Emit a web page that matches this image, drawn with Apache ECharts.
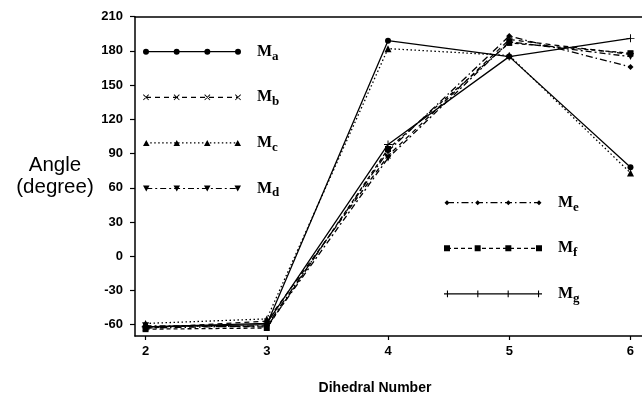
<!DOCTYPE html>
<html><head><meta charset="utf-8">
<script src="https://cdn.jsdelivr.net/npm/echarts@6/dist/echarts.min.js"></script>
<style>html,body{margin:0;padding:0;background:#fff}#c{width:642px;height:396px}</style>
</head><body><div id="c"></div>
<script>
// ---- data ----
const dihedral = [2, 3, 4, 5, 6];
const yTicks = [-60, -30, 0, 30, 60, 90, 120, 150, 180, 210];
const Ma = [-62, -60, 189, 175, 78];
const Mb = [-63, -57, 88, 190, 177];
const Mc = [-59, -55, 182, 176, 73];
const Md = [-61, -62, 86, 188, 175];
const Me = [-63, -61, 92, 193, 166];
const Mf = [-64, -63, 94, 187, 178];
const Mg = [-62, -59, 98, 175, 191];
const leftLegend = ['Ma', 'Mb', 'Mc', 'Md'];
const rightLegend = ['Me', 'Mf', 'Mg'];
const xTitle = 'Dihedral Number';
const yTitle = 'Angle\n(degree)';

// ---- styles ----
const CROSS = 'path://M0 1 L1 0 L10 9 L9 10 Z M9 0 L10 1 L1 10 L0 9 Z';
const PLUS = 'path://M0 4.4 H10 V5.6 H0 Z M4.4 0 H5.6 V10 H4.4 Z';
const styles = {
  Ma: {dash: null, marker: 'circle', symbol: 'circle', size: 6, rot: 0},
  Mb: {dash: [5, 4], marker: 'cross', symbol: CROSS, size: 6, rot: 0},
  Mc: {dash: [1.5, 2.5], marker: 'tri', symbol: 'triangle', size: 7, rot: 0},
  Md: {dash: [6, 3, 2, 3], marker: 'tridown', symbol: 'triangle', size: 7, rot: 180},
  Me: {dash: [7, 3, 1.5, 3], marker: 'diamond', symbol: 'diamond', size: 6, rot: 0},
  Mf: {dash: [4, 3], marker: 'square', symbol: 'rect', size: 6, rot: 0},
  Mg: {dash: null, marker: 'plus', symbol: PLUS, size: 8, rot: 0}
};
const values = {Ma, Mb, Mc, Md, Me, Mf, Mg};

function f(n) { return (+n).toFixed(2); }
function rect(x1, x2, y1, y2) { return `M${f(x1)} ${f(y1)} H${f(x2)} V${f(y2)} H${f(x1)} Z `; }
function markerPath(m, cx) {
  switch (m) {
    case 'circle': return `M${f(cx-3)} 4 A3 3 0 1 1 ${f(cx+3)} 4 A3 3 0 1 1 ${f(cx-3)} 4 Z `;
    case 'cross': return `M${f(cx-3)} 1.6 L${f(cx-2.4)} 1 L${f(cx+3)} 6.4 L${f(cx+2.4)} 7 Z M${f(cx+2.4)} 1 L${f(cx+3)} 1.6 L${f(cx-2.4)} 7 L${f(cx-3)} 6.4 Z `;
    case 'tri': return `M${f(cx)} 1 L${f(cx+3.3)} 7 L${f(cx-3.3)} 7 Z `;
    case 'tridown': return `M${f(cx-3.3)} 1 L${f(cx+3.3)} 1 L${f(cx)} 7 Z `;
    case 'diamond': return `M${f(cx)} 1.5 L${f(cx+2.5)} 4 L${f(cx)} 6.5 L${f(cx-2.5)} 4 Z `;
    case 'square': return rect(cx-3, cx+3, 1, 7);
    case 'plus': return rect(cx-3.5, cx+3.5, 3.4, 4.6) + rect(cx-0.55, cx+0.55, 0.5, 7.5);
  }
  return '';
}
function legendIcon(st) {
  const x0 = 3, x1 = 95;
  let p = 'M0 0 Z M98 8 Z ';
  if (!st.dash) p += rect(x0, x1, 3.4, 4.6);
  else {
    let x = x0, i = 0, on = true;
    while (x < x1) {
      const len = st.dash[i % st.dash.length];
      const x2 = Math.min(x1, x + len);
      if (on) p += rect(x, x2, 3.4, 4.6);
      x = x2; on = !on; i++;
    }
  }
  for (let k = 0; k < 4; k++) p += markerPath(st.marker, x0 + k * (x1 - x0) / 3);
  return 'path://' + p;
}

const series = Object.keys(values).map(name => ({
  name, type: 'line',
  data: dihedral.map((x, i) => [x, values[name][i]]),
  symbol: styles[name].symbol, symbolSize: styles[name].size, symbolRotate: styles[name].rot,
  showSymbol: true,
  lineStyle: {color: '#000', width: 1.3, type: styles[name].dash || 'solid'},
  itemStyle: {color: '#000', borderWidth: 0},
  emphasis: {disabled: true}
}));

function legendCfg(names, left, top) {
  return {
    data: names.map(n => ({name: n, icon: legendIcon(styles[n])})),
    orient: 'vertical', left, top, padding: 0,
    itemWidth: 98, itemHeight: 8, itemGap: 26.6,
    selectedMode: false,
    itemStyle: {color: '#000', borderWidth: 0},
    formatter: n => `{m|M}{s|${n.slice(1)}}`,
    textStyle: {
      rich: {
        m: {fontFamily: 'Liberation Serif', fontWeight: 'bold', fontSize: 16, color: '#000', padding: [0, 0, 0, 11]},
        s: {fontFamily: 'Liberation Serif', fontWeight: 'bold', fontSize: 13, color: '#000', padding: [9, 0, 0, 0]}
      }
    }
  };
}

const chart = echarts.init(document.getElementById('c'), null, {renderer: 'canvas'});
chart.setOption({
  animation: false,
  backgroundColor: '#fff',
  grid: {left: 135, right: 0, top: 16.7, bottom: 60, containLabel: false, outerBoundsMode: 'none'},
  legend: [legendCfg(leftLegend, 143, 43.7), legendCfg(rightLegend, 444, 194.7)],
  xAxis: [{
    type: 'value', min: 1.913, max: 6.095,
    name: xTitle, nameLocation: 'middle', nameGap: 52,
    nameTextStyle: {fontFamily: 'Liberation Sans', fontWeight: 'bold', fontSize: 14, color: '#000', verticalAlign: 'middle', align: 'center', padding: [0, 27, 0, 0]},
    axisLine: {show: true, onZero: false, lineStyle: {color: '#000', width: 1.5}},
    axisTick: {show: true, length: 4, customValues: dihedral, lineStyle: {color: '#000', width: 1.2}},
    axisLabel: {customValues: dihedral, margin: 9, fontFamily: 'Liberation Sans', fontWeight: 'bold', fontSize: 13, color: '#000'},
    splitLine: {show: false}
  }, {
    type: 'value', position: 'top', min: 1.913, max: 6.095,
    axisLine: {show: true, onZero: false, lineStyle: {color: '#000', width: 1.5}},
    axisTick: {show: false}, axisLabel: {show: false}, splitLine: {show: false}
  }],
  yAxis: {
    type: 'value', min: -70, max: 210,
    name: yTitle, nameLocation: 'middle', nameRotate: 0, nameGap: 80,
    nameTextStyle: {fontFamily: 'Liberation Sans', fontSize: 20.5, lineHeight: 22, color: '#000', align: 'center', verticalAlign: 'middle', padding: [0, 0, 27, 0]},
    axisLine: {show: true, onZero: false, lineStyle: {color: '#000', width: 1.5}},
    axisTick: {show: true, length: 5, customValues: yTicks, lineStyle: {color: '#000', width: 1.2}},
    axisLabel: {customValues: yTicks, margin: 12, fontFamily: 'Liberation Sans', fontWeight: 'bold', fontSize: 13, color: '#000'},
    splitLine: {show: false}
  },
  series
});
</script></body></html>
